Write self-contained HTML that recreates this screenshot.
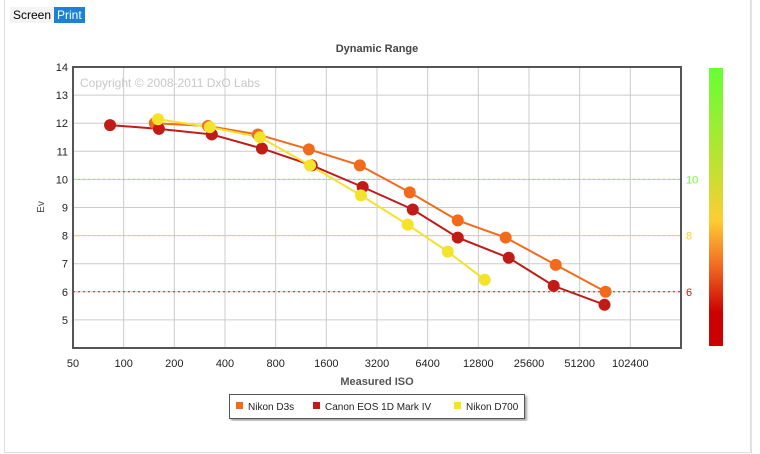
<!DOCTYPE html>
<html><head><meta charset="utf-8"><style>
body{margin:0;width:760px;height:454px;background:#fff;font-family:"Liberation Sans",Verdana,sans-serif;overflow:hidden;position:relative}
#frame{position:absolute;left:4px;top:0;width:745px;height:452px;border:1px solid #ddd;border-top:none}
.btn{position:absolute;top:7px;height:16px;font-size:12px;line-height:16px;padding:0 3px}
</style></head><body>
<div id="frame"></div>
<div style="position:absolute;left:751px;top:0;width:1px;height:454px;background:#e4e4e4"></div>
<div class="btn" style="left:10px;background:#f4f4f4;color:#000;border-right:1px solid #ddd">Screen</div>
<div class="btn" style="left:54px;background:#1b82d6;color:#fff">Print</div>
<svg id="chart" width="760" height="454" style="position:absolute;left:0;top:0">
<defs><linearGradient id="cb" x1="0" y1="0" x2="0" y2="1">
<stop offset="0" stop-color="#66ff33"/><stop offset="0.4" stop-color="#ccdd33"/><stop offset="0.55" stop-color="#ffcc33"/><stop offset="0.72" stop-color="#ee6622"/><stop offset="0.88" stop-color="#cc0000"/><stop offset="1" stop-color="#cc0000"/></linearGradient>
<filter id="sh"><feDropShadow dx="2" dy="2" stdDeviation="1" flood-color="#000" flood-opacity="0.35"/></filter></defs>
</svg>
<script>
const isoTicks=[50,100,200,400,800,1600,3200,6400,12800,25600,51200,102400];
const evTicks=[5,6,7,8,9,10,11,12,13,14];
const seriesNames=["Nikon D3s","Canon EOS 1D Mark IV","Nikon D700"];
const seriesColors=["#f26b1d","#c11b17","#f5e22a"];
const d3sIso=[153,317,627,1260,2530,5010,9660,18600,36900,73000];
const d3sEv=[12.0,11.9,11.6,11.07,10.5,9.54,8.54,7.93,6.96,6.0];
const canonIso=[83,162,334,663,1310,2630,5220,9660,19400,35900,71900];
const canonEv=[11.93,11.8,11.6,11.1,10.5,9.73,8.93,7.93,7.21,6.21,5.54];
const d700Iso=[160,325,645,1280,2570,4870,8420,13970];
const d700Ev=[12.14,11.86,11.5,10.5,9.43,8.39,7.43,6.43];
const refLevels=[10,8,6];
const refColors=["#66ff33","#ffcc33","#dd1111"];

const svg=document.getElementById('chart');const NS='http://www.w3.org/2000/svg';
const L=73,R=681,T=67,B=348;
const xS=v=>L+(Math.log2(v/50)/12)*(R-L);
const yS=v=>T+(14-v)*(B-T)/10;
function mk(t,a,p){const e=document.createElementNS(NS,t);for(const k in a)e.setAttribute(k,a[k]);(p||svg).appendChild(e);return e;}
let e;
// grid
isoTicks.forEach(v=>{
e=mk('line',{x1:xS(v),x2:xS(v),y1:T,y2:B,stroke:'#ccc','stroke-width':1});


e=mk('text',{x:xS(v),y:367,'text-anchor':'middle','font-size':11,fill:'#222'});e.textContent=v;


});
evTicks.forEach(v=>{
e=mk('line',{x1:L,x2:R,y1:yS(v),y2:yS(v),stroke:'#ccc','stroke-width':1});


e=mk('text',{x:68,y:yS(v)+4,'text-anchor':'end','font-size':11,fill:'#222'});e.textContent=v;


});
refLevels.forEach((v,i)=>{
e=mk('line',{x1:L,x2:R,y1:yS(v),y2:yS(v),stroke:refColors[i],'stroke-width':1,'stroke-dasharray':'2,3'});


e=mk('text',{x:686,y:yS(v)+4,'font-size':11,fill:refColors[i]});e.textContent=v;


});
e=mk('text',{x:80,y:87,'font-size':12,fill:'#c8c8c8'});e.textContent='Copyright © 2008-2011 DxO Labs';


const all=[[d3sIso,d3sEv],[canonIso,canonEv],[d700Iso,d700Ev]];
all.forEach((s,i)=>{
const pts=s[0].map((v,j)=>xS(v)+','+yS(s[1][j])).join(' ');
e=mk('polyline',{points:pts,fill:'none',stroke:seriesColors[i],'stroke-width':2});


});
all.forEach((s,i)=>{
s[0].forEach((v,j)=>{
e=mk('circle',{cx:xS(v),cy:yS(s[1][j]),r:6,fill:seriesColors[i]});


});
});
e=mk('rect',{x:L,y:T,width:R-L,height:B-T,fill:'none',stroke:'#555','stroke-width':2});


e=mk('rect',{x:709,y:68,width:14,height:278,fill:'url(#cb)'});


e=mk('text',{x:377,y:52,'text-anchor':'middle','font-size':11,'font-weight':'bold',fill:'#444'});e.textContent='Dynamic Range';


e=mk('text',{x:377,y:385,'text-anchor':'middle','font-size':11,'font-weight':'bold',fill:'#555'});e.textContent='Measured ISO';


e=mk('text',{x:44,y:207,'text-anchor':'middle','font-size':10,fill:'#444',transform:'rotate(-90 44 207)'});e.textContent='Ev';


e=mk('rect',{x:229.5,y:394.5,width:295,height:24,fill:'#fff',stroke:'#555',filter:'url(#sh)'});


const lx=[236,313,454];
seriesNames.forEach((n,i)=>{
e=mk('rect',{x:lx[i],y:402,width:7,height:7,fill:seriesColors[i]});


e=mk('text',{x:lx[i]+12,y:410,'font-size':10,fill:'#222'});e.textContent=n;


});
</script>
</body></html>
